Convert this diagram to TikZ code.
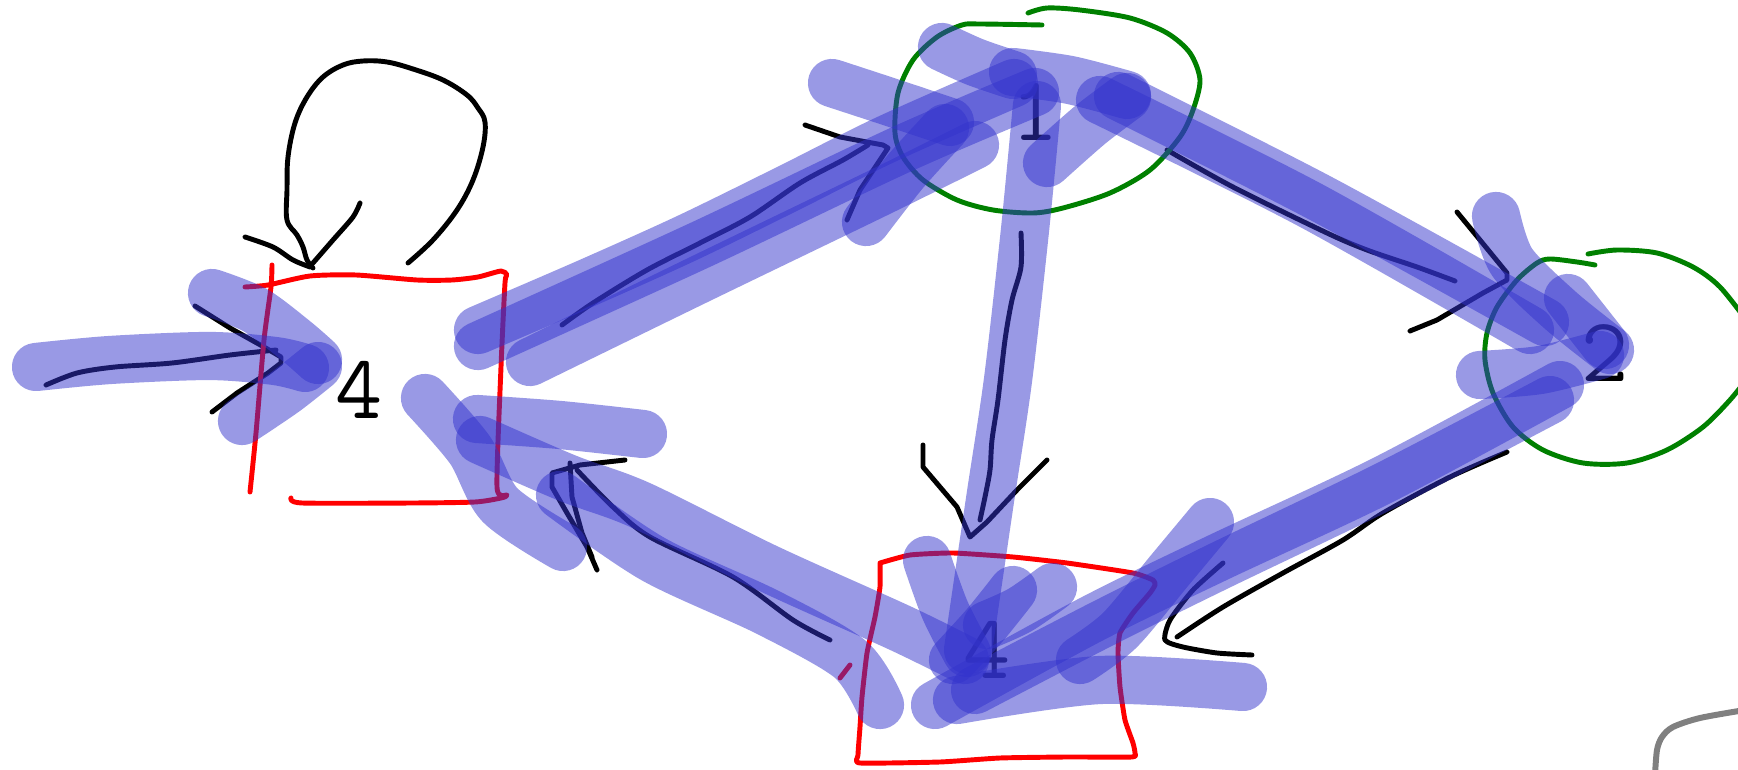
\documentclass[tikz,border=0pt]{standalone}
\usepackage{tikz}
\definecolor{MarkerBlue}{RGB}{51,51,204}
\definecolor{PenRed}{RGB}{255,0,0}
\definecolor{PenGreen}{RGB}{0,128,0}
\definecolor{PenGray}{RGB}{128,128,128}
\newcommand{\digitfont}{\fontsize{26}{26}\selectfont\ttfamily}

\begin{document}
\begin{tikzpicture}[x=0.01cm, y=-0.01cm,
  marker/.style={draw=MarkerBlue, draw opacity=0.5, line width=13.7pt, line cap=round, line join=round},
  pen/.style={draw=black, line width=1.4pt, line cap=round, line join=round},
  redpen/.style={draw=PenRed, line width=1.4pt, line cap=round, line join=round},
  greenpen/.style={draw=PenGreen, line width=1.4pt, line cap=round, line join=round},
  digit/.style={font=\digitfont, inner sep=0pt, text=black}]
  \useasboundingbox (0,0) rectangle (1738,770);
  \clip (0,0) rectangle (1738,770);

  % Digits
  \node[digit] (leftfour) at (359,390) {4};
  \node[digit] (one) at (1035,112) {1};
  \node[digit] (two) at (1605,353) {2};
  \node[digit] (bottomfour) at (987,650) {4};

  % Self loop on the left 4
  \draw[pen] plot[smooth, tension=0.6] coordinates {(408,263) (433,240) (457,210) (473,180) (483,147) (485,122) (478,108) (467,95) (443,80) (413,69) (387,62) (363,61) (343,65) (323,77) (307,97) (295,123) (288,157) (287,190) (287,220) (297,235) (303,247) (307,260) (313,268)};
  \draw[pen] plot[smooth, tension=0.5] coordinates {(245,237) (273,247) (293,260) (310,267)};
  \draw[pen] plot[smooth, tension=0.5] coordinates {(360,203) (353,217) (333,240) (313,263)};

  % Pen arrows
  \draw[pen] plot[smooth, tension=0.5] coordinates {(46,385) (77,373) (115,367) (172,363) (230,355) (276,350)};
  \draw[pen] (195,306) -- (230,328) -- (264,347) -- (281,357) -- (281,363) -- (268,373) -- (237,393) -- (212,412);
  \draw[pen] plot[smooth, tension=0.5] coordinates {(562,325) (593,303) (647,270) (700,243) (750,217) (800,183) (843,160) (868,145)};
  \draw[pen] (805,125) -- (840,137) -- (883,145) -- (888,148) -- (880,160) -- (860,190) -- (847,220);
  \draw[pen] plot[smooth, tension=0.5] coordinates {(1167,150) (1233,187) (1327,233) (1367,250) (1417,267) (1455,281)};
  \draw[pen] (1457,212) -- (1480,240) -- (1507,273) -- (1507,280) -- (1483,293) -- (1437,320) -- (1410,331);
  \draw[pen] plot[smooth, tension=0.5] coordinates {(1507,452) (1450,477) (1383,513) (1343,540) (1283,573) (1223,607) (1177,637)};
  \draw[pen] plot[smooth, tension=0.4] coordinates {(1223,563) (1193,590) (1170,620) (1165,640) (1183,647) (1217,653) (1252,655)};
  \draw[pen] plot[smooth, tension=0.5] coordinates {(1021,233) (1021,267) (1012,300) (1005,340) (998,400) (992,440) (990,470) (985,497) (980,520)};
  \draw[pen] (923,445) -- (923,467) -- (940,487) -- (957,507) -- (970,537) -- (987,522) -- (1017,490) -- (1047,460);
  \draw[pen] plot[smooth, tension=0.5] coordinates {(830,640) (793,620) (733,577) (650,537) (613,507) (577,470)};
  \draw[pen] (625,460) -- (580,465) -- (552,473) -- (552,487) -- (567,513) -- (587,547) -- (597,570);
  \draw[pen] (570,463) -- (572,497) -- (582,533) -- (592,557);

  % Red boxes
  \draw[redpen] plot[smooth, tension=0.4] coordinates {(245,287) (268,285) (310,276) (356,275) (417,280) (452,280) (478,277) (501,271) (507,275) (505,283) (501,367) (497,487) (507,495) (501,498) (475,502) (413,503) (302,503) (291,498)};
  \draw[redpen] plot[smooth, tension=0.4] coordinates {(272,265) (271,287) (264,340) (256,433) (250,492)};
  \draw[redpen] plot[smooth, tension=0.3] coordinates {(880,563) (910,555) (953,553) (1013,557) (1067,563) (1133,573) (1153,580) (1155,585) (1150,593) (1133,613) (1120,633) (1118,653) (1120,687) (1125,720) (1133,743) (1135,753) (1132,757) (1067,757) (1000,758) (940,762) (860,763) (858,755) (860,727) (862,697) (867,653) (875,617) (880,587) (880,563)};
  \draw[redpen] (840,678) -- (850,665);

  % Green loops
  \draw[greenpen] plot[smooth, tension=0.5] coordinates {(1042,25) (980,24) (962,25) (937,37) (913,60) (898,93) (895,133) (903,157) (923,180) (957,200) (993,210) (1033,213) (1063,208) (1110,193) (1150,170) (1180,137) (1193,110) (1200,80) (1190,53) (1167,33) (1130,18) (1080,10) (1047,8) (1028,13)};
  \draw[greenpen] plot[smooth, tension=0.5] coordinates {(1595,265) (1577,262) (1550,259) (1537,263) (1517,280) (1497,307) (1487,333) (1485,360) (1493,393) (1513,427) (1543,450) (1583,463) (1627,463) (1667,450) (1703,427) (1730,400) (1750,375)};
  \draw[greenpen] plot[smooth, tension=0.5] coordinates {(1588,254) (1617,250) (1657,253) (1693,267) (1720,287) (1750,325)};

  % Gray stroke
  \draw[draw=PenGray, line width=1.7pt, line cap=round] plot[smooth, tension=0.5] coordinates {(1655,775) (1657,750) (1662,737) (1673,727) (1700,718) (1745,710)};

  % Marker strokes: left input
  \draw[marker] plot[smooth] coordinates {(36,367) (110,360) (210,356) (275,361) (305,368)};
  \draw[marker] plot[smooth] coordinates {(212,293) (255,310) (295,340) (318,360)};
  \draw[marker] plot[smooth] coordinates {(318,366) (285,392) (242,421)};

  % Marker strokes: left 4 to 1
  \draw[marker] plot[smooth] coordinates {(478,330) (587,283) (687,238) (787,189) (887,139) (1014,83)};
  \draw[marker] plot[smooth] coordinates {(478,346) (700,245) (900,150) (1035,92)};
  \draw[marker] plot[smooth] coordinates {(530,362) (700,279) (880,192) (975,145)};
  \draw[marker] plot[smooth] coordinates {(832,83) (890,102) (950,122)};
  \draw[marker] plot[smooth] coordinates {(866,222) (905,172) (945,128)};

  % Marker strokes: around 1
  \draw[marker] plot[smooth] coordinates {(942,47) (975,62) (1013,75)};
  \draw[marker] plot[smooth] coordinates {(1013,72) (1070,80) (1127,95)};
  \draw[marker] plot[smooth] coordinates {(1047,163) (1090,125) (1127,97)};

  % Marker strokes: 1 to bottom 4
  \draw[marker] plot[smooth] coordinates {(1037,105) (1025,230) (1008,380) (990,500) (968,650)};

  % Marker strokes: 1 to 2
  \draw[marker] plot[smooth] coordinates {(1100,100) (1310,205) (1530,330)};
  \draw[marker] plot[smooth] coordinates {(1118,96) (1320,198) (1545,322)};
  \draw[marker] plot[smooth] coordinates {(1496,216) (1512,262) (1560,310) (1610,350)};
  \draw[marker] plot[smooth] coordinates {(1568,298) (1605,345)};
  \draw[marker] plot[smooth] coordinates {(1480,375) (1540,370) (1600,355)};

  % Marker strokes: 2 to bottom 4
  \draw[marker] plot[smooth] coordinates {(1550,400) (1383,487) (1217,567) (1100,625) (975,690)};
  \draw[marker] plot[smooth] coordinates {(1560,385) (1383,480) (1217,558) (1090,620) (935,705)};
  \draw[marker] plot[smooth] coordinates {(1210,522) (1170,570) (1120,630) (1080,660)};
  \draw[marker] plot[smooth] coordinates {(957,700) (1100,680) (1243,687)};

  % Marker strokes: at bottom 4
  \draw[marker] plot[smooth] coordinates {(927,560) (945,610) (967,653)};
  \draw[marker] plot[smooth] coordinates {(1013,590) (985,625) (953,660)};
  \draw[marker] plot[smooth] coordinates {(1053,587) (1020,610) (987,625)};

  % Marker strokes: bottom 4 to left 4
  \draw[marker] plot[smooth] coordinates {(480,440) (567,478) (640,505) (767,568) (900,628) (965,660)};
  \draw[marker] plot[smooth] coordinates {(560,495) (653,559) (767,612) (850,659) (880,705)};
  \draw[marker] plot[smooth] coordinates {(477,419) (560,425) (643,434)};
  \draw[marker] plot[smooth] coordinates {(425,398) (470,450) (500,505) (563,547)};
\end{tikzpicture}
\end{document}
